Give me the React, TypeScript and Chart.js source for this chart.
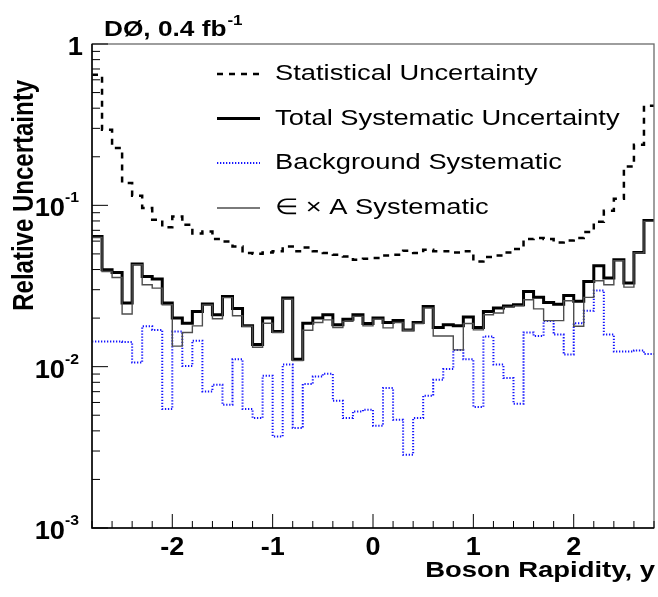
import React, { useEffect, useRef } from "react";
import { Chart, registerables } from "chart.js";

Chart.register(...registerables);

// ---- axis ranges / binning ----
const X_MIN = -2.8;
const X_MAX = 2.8;
const BIN_WIDTH = 0.1;
const Y_MIN = 0.001;
const Y_MAX = 1;

// ---- series values (one per rapidity bin, 56 bins of 0.1 from -2.8 to 2.8) ----
const statistical = [
  0.645, 0.294, 0.227, 0.1375, 0.1147, 0.0962, 0.0814, 0.0731, 0.0853, 0.0758,
  0.0669, 0.0689, 0.0618, 0.0597, 0.0556, 0.0506, 0.0501, 0.051, 0.052, 0.0556,
  0.052, 0.0548, 0.052, 0.0506, 0.0494, 0.0482, 0.046, 0.0467, 0.0471, 0.0488,
  0.0494, 0.0523, 0.0506, 0.053, 0.052, 0.052, 0.051, 0.052, 0.0449, 0.0478,
  0.0488, 0.051, 0.0536, 0.0618, 0.0627, 0.0618, 0.0589, 0.0606, 0.0627, 0.0683,
  0.0791, 0.0926, 0.1099, 0.174, 0.2375, 0.4145,
];

const totalSystematic = [
  0.0642, 0.0399, 0.0384, 0.0248, 0.0433, 0.0362, 0.0349, 0.0248, 0.02, 0.0186,
  0.022, 0.0245, 0.021, 0.0272, 0.0229, 0.0179, 0.0137, 0.02, 0.0165, 0.0266,
  0.0111, 0.0186, 0.02, 0.021, 0.0182, 0.0197, 0.021, 0.0185, 0.02, 0.0188,
  0.0193, 0.0169, 0.0188, 0.0236, 0.0175, 0.0182, 0.0179, 0.0203, 0.0175, 0.022,
  0.0231, 0.0238, 0.0242, 0.0292, 0.0269, 0.025, 0.0244, 0.0276, 0.0254, 0.0337,
  0.0422, 0.0354, 0.046, 0.033, 0.051, 0.0806,
];

const backgroundSystematic = [
  0.0143, 0.0143, 0.0143, 0.0142, 0.0106, 0.0178, 0.0169, 0.00546, 0.0165, 0.0101,
  0.0145, 0.00702, 0.00772, 0.0058, 0.0111, 0.00546, 0.0048, 0.00878, 0.00369, 0.0103,
  0.00416, 0.0078, 0.00869, 0.00904, 0.00614, 0.0048, 0.00528, 0.00541, 0.0043, 0.00737,
  0.00469, 0.00284, 0.0048, 0.0066, 0.00829, 0.00966, 0.0127, 0.0111, 0.00562, 0.0154,
  0.0103, 0.0085, 0.00589, 0.0163, 0.0155, 0.0192, 0.0158, 0.0119, 0.0186, 0.0222,
  0.0297, 0.0158, 0.0124, 0.0124, 0.0126, 0.012,
];

const effAccSystematic = [
  0.0632, 0.0389, 0.0357, 0.0212, 0.0428, 0.0322, 0.0307, 0.0242, 0.0134, 0.0163,
  0.0179, 0.0241, 0.0198, 0.0268, 0.0207, 0.0178, 0.0132, 0.0186, 0.0163, 0.0262,
  0.0109, 0.0168, 0.0188, 0.0195, 0.0175, 0.0191, 0.0205, 0.0179, 0.0197, 0.0174,
  0.0188, 0.0168, 0.0185, 0.0231, 0.0155, 0.0155, 0.0127, 0.0185, 0.0169, 0.021,
  0.0215, 0.0234, 0.0238, 0.026, 0.0228, 0.0193, 0.0193, 0.0256, 0.0178, 0.0269,
  0.0341, 0.0322, 0.0453, 0.0311, 0.0506, 0.0795,
];

// ---- texts ----
const legendLabels = [
  "Statistical Uncertainty",
  "Total Systematic Uncertainty",
  "Background Systematic",
  "\u2208 \u00d7 A Systematic",
];
const xTickValues = [-2, -1, 0, 1, 2];
const xTickLabels = ["-2", "-1", "0", "1", "2"];
const yTickValues = [1, 0.1, 0.01, 0.001];
const yTickBase = ["1", "10", "10", "10"];
const yTickExponent = ["", "-1", "-2", "-3"];
const xTitle = "Boson Rapidity, y";
const yTitle = "Relative Uncertainty";
const topLabel = "D\u00d8, 0.4 fb";
const topLabelExponent = "-1";

const FONT = '"Liberation Sans", Arial, Helvetica, sans-serif';

type Style = { color: string; width: number; dash: number[] };
const styles: Style[] = [
  { color: "#000000", width: 2.5, dash: [6, 6] },
  { color: "#000000", width: 3, dash: [] },
  { color: "#1414ff", width: 2, dash: [1.3, 1.7] },
  { color: "#4e4e4e", width: 1.4, dash: [] },
];

function toHistogram(values: number[]) {
  const pts: { x: number; y: number }[] = [];
  values.forEach((v, i) => {
    const lo = X_MIN + i * BIN_WIDTH;
    const hi = X_MIN + (i + 1) * BIN_WIDTH;
    pts.push({ x: lo, y: v });
    pts.push({ x: hi, y: v });
  });
  return pts;
}

function drawText(
  ctx: CanvasRenderingContext2D,
  text: string,
  x: number,
  y: number,
  size: number,
  bold: boolean,
  align: CanvasTextAlign,
  sx: number,
  rotate = false
) {
  ctx.save();
  ctx.translate(x, y);
  ctx.scale(sx, 1);
  if (rotate) ctx.rotate(-Math.PI / 2);
  ctx.font = `${bold ? "bold " : ""}${size}px ${FONT}`;
  ctx.textAlign = align;
  ctx.textBaseline = "alphabetic";
  ctx.fillStyle = "#000";
  ctx.fillText(text, 0, 0);
  const w = ctx.measureText(text).width * sx;
  ctx.restore();
  return w;
}

const decorPlugin = {
  id: "rootDecor",
  beforeDraw(chart: any) {
    const { ctx, width, height } = chart;
    ctx.save();
    ctx.fillStyle = "#fff";
    ctx.fillRect(0, 0, width, height);
    ctx.restore();
  },
  afterDatasetsDraw(chart: any) {
    const { ctx, chartArea: a, scales } = chart;
    const xs = scales.x;
    const ys = scales.y;
    ctx.save();
    // frame
    ctx.strokeStyle = "#6a6a6a";
    ctx.lineWidth = 1.3;
    ctx.strokeRect(a.left, a.top, a.right - a.left, a.bottom - a.top);
    // axes
    ctx.strokeStyle = "#000";
    ctx.lineWidth = 1.5;
    ctx.beginPath();
    ctx.moveTo(a.left, a.top);
    ctx.lineTo(a.left, a.bottom);
    ctx.lineTo(a.right, a.bottom);
    ctx.stroke();

    // y ticks (inside)
    ctx.lineWidth = 1;
    ctx.beginPath();
    yTickValues.forEach((v) => {
      const py = ys.getPixelForValue(v);
      ctx.moveTo(a.left, py);
      ctx.lineTo(a.left + 16, py);
    });
    for (let e = -3; e < 0; e++) {
      for (let m = 2; m <= 9; m++) {
        const py = ys.getPixelForValue(m * Math.pow(10, e));
        ctx.moveTo(a.left, py);
        ctx.lineTo(a.left + 8, py);
      }
    }
    // x ticks (inside)
    xTickValues.forEach((v) => {
      const px = xs.getPixelForValue(v);
      ctx.moveTo(px, a.bottom);
      ctx.lineTo(px, a.bottom - 14);
    });
    for (let k = -14; k <= 14; k++) {
      if (k % 5 === 0) continue;
      const px = xs.getPixelForValue(k * 0.2);
      ctx.moveTo(px, a.bottom);
      ctx.lineTo(px, a.bottom - 7);
    }
    ctx.stroke();
    ctx.restore();

    // y tick labels
    yTickValues.forEach((v, i) => {
      const py = ys.getPixelForValue(v);
      if (!yTickExponent[i]) {
        drawText(ctx, yTickBase[i], a.left - 9, py + 11, 26, true, "right", 1.05);
      } else {
        drawText(ctx, yTickBase[i], a.left - 27, py + 11, 26, true, "right", 1.05);
        drawText(ctx, yTickExponent[i], a.left - 27, py - 3, 15, true, "left", 1.05);
      }
    });
    // x tick labels
    xTickValues.forEach((v, i) => {
      const px = xs.getPixelForValue(v);
      drawText(ctx, xTickLabels[i], px, a.bottom + 27, 25, true, "center", 1.08);
    });
    // axis titles
    drawText(ctx, xTitle, 655, 577, 22.5, true, "right", 1.22);
    drawText(ctx, yTitle, 33, 80, 24, true, "right", 1.2, true);
    // top label
    const w = drawText(ctx, topLabel, 104, 36, 21.5, true, "left", 1.22);
    drawText(ctx, topLabelExponent, 104 + w + 1, 25, 14, true, "left", 1.22);

    // legend
    const rowY = [74, 118.5, 163, 208];
    legendLabels.forEach((label, i) => {
      const st = styles[i];
      ctx.save();
      ctx.strokeStyle = st.color;
      ctx.lineWidth = st.width;
      ctx.setLineDash(st.dash);
      ctx.lineCap = "butt";
      ctx.beginPath();
      ctx.moveTo(217, rowY[i]);
      ctx.lineTo(260, rowY[i]);
      ctx.stroke();
      ctx.restore();
      drawText(ctx, label, 275, rowY[i] + 6, 22.4, false, "left", 1.22);
    });
  },
};

export default function App() {
  const canvasRef = useRef<HTMLCanvasElement>(null);

  useEffect(() => {
    const canvas = canvasRef.current;
    if (!canvas) return;
    const series = [statistical, totalSystematic, backgroundSystematic, effAccSystematic];
    const orders = [2, 1, 3, 0];
    const chart = new Chart(canvas, {
      type: "line",
      data: {
        datasets: series.map((vals, i) => ({
          label: legendLabels[i],
          data: toHistogram(vals),
          borderColor: styles[i].color,
          borderWidth: styles[i].width,
          borderDash: styles[i].dash,
          borderCapStyle: "butt",
          borderJoinStyle: "miter",
          pointRadius: 0,
          tension: 0,
          fill: false,
          order: orders[i],
        })),
      },
      options: {
        animation: false,
        responsive: false,
        devicePixelRatio: 1,
        layout: { padding: { left: 92, top: 44, right: 4, bottom: 69 } },
        scales: {
          x: { type: "linear", min: X_MIN, max: X_MAX, display: false },
          y: { type: "logarithmic", min: Y_MIN, max: Y_MAX, display: false },
        },
        plugins: {
          legend: { display: false },
          tooltip: { enabled: false },
          title: { display: false },
        },
      },
      plugins: [decorPlugin],
    } as any);
    return () => chart.destroy();
  }, []);

  return (
    <div style={{ position: "fixed", left: 0, top: 0, width: 658, height: 597, background: "#fff" }}>
      <canvas ref={canvasRef} width={658} height={597} style={{ display: "block", width: 658, height: 597 }} />
    </div>
  );
}
